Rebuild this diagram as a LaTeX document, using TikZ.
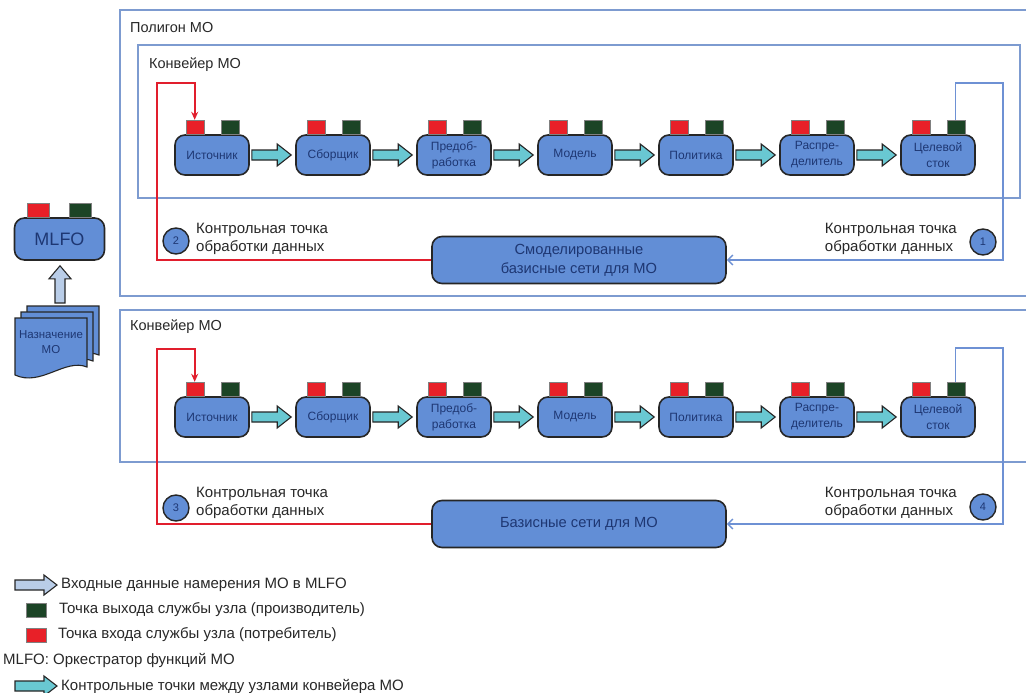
\documentclass[tikz,border=0pt]{standalone}
\usepackage{fontspec}
\setmainfont{Liberation Sans}
\usetikzlibrary{calc,arrows.meta}
\definecolor{nodefill}{RGB}{98,142,214}
\definecolor{nodetext}{RGB}{30,55,115}
\definecolor{portred}{RGB}{232,32,40}
\definecolor{portgreen}{RGB}{28,68,38}
\definecolor{cyanarr}{RGB}{105,200,210}
\definecolor{frameblue}{RGB}{125,155,208}
\definecolor{lineblue}{RGB}{110,145,212}
\definecolor{linered}{RGB}{225,30,45}
\definecolor{inarrow}{RGB}{185,205,232}
\definecolor{txtgray}{RGB}{40,40,40}
\newcommand{\blockarr}[2]{%
  \draw[cyanarrow] ($(#1.east)+(2,-5)$) -- ($(#2.west)+(-18,-5)$) -- ($(#2.west)+(-18,-11)$) -- ($(#2.west)+(-4,0)$) -- ($(#2.west)+(-18,11)$) -- ($(#2.west)+(-18,5)$) -- ($(#1.east)+(2,5)$) -- cycle;}
\newcommand{\docsheet}[2]{%
  \filldraw[docsheetstyle] (#1,#2) -- ++(72,0) -- ++(0,49) .. controls +(-22,-9) and +(26,12) .. ++(-72,8) -- cycle;}
\begin{document}
\begin{tikzpicture}[x=1pt,y=-1pt,
  proc/.style={draw=black!85, line width=1.6pt, fill=nodefill, rounded corners=10pt,
    minimum width=74pt, minimum height=40pt, inner sep=1pt,
    font=\fontsize{12}{16}\selectfont, text=nodetext, align=center},
  rport/.style={draw=black!50, line width=0.4pt, fill=portred, minimum width=18pt, minimum height=14pt, inner sep=0pt},
  gport/.style={draw=black!50, line width=0.4pt, fill=portgreen, minimum width=18pt, minimum height=14pt, inner sep=0pt},
  cyanarrow/.style={draw=black!85, line width=1.1pt, fill=cyanarr, line join=miter},
  inarr/.style={draw=black!85, line width=1.1pt, fill=inarrow, line join=miter},
  frame/.style={draw=frameblue, line width=1.2pt},
  lbl/.style={font=\fontsize{14.5}{18}\selectfont, text=txtgray, inner sep=0pt},
  cptext/.style={font=\fontsize{15}{18}\selectfont, text=txtgray, inner sep=0pt, align=left},
  cp/.style={circle, draw=black!85, line width=1.4pt, fill=nodefill, minimum size=26pt, inner sep=0pt,
    font=\fontsize{11}{13}\selectfont, text=nodetext},
  bigbox/.style={draw=black!85, line width=1.6pt, fill=nodefill, rounded corners=10pt,
    minimum width=294pt, minimum height=47pt, inner sep=1pt,
    font=\fontsize{14.7}{19}\selectfont, text=nodetext, align=center},
  redline/.style={draw=linered, line width=1.6pt, -{Stealth[length=8pt,width=7pt]}},
  blueline/.style={draw=lineblue, line width=1.4pt, -{Straight Barb[length=5pt,width=10pt]}},
  docsheetstyle/.style={draw=black!85, line width=1.1pt, fill=nodefill},
  legtext/.style={font=\fontsize{15}{18}\selectfont, text=txtgray, inner sep=0pt, anchor=west}
]
\useasboundingbox (0,0) rectangle (1026,693);
\fill[white] (0,0) rectangle (1026,693);

% frames
\draw[frame] (1026,10) -- (120,10) -- (120,296) -- (1026,296);
\draw[frame] (138,45) rectangle (1020,198);
\draw[frame] (1026,310) -- (120,310) -- (120,462) -- (1026,462);
\node[lbl, anchor=west] (tpoly) at (130,28) {Полигон МО};
\node[lbl, anchor=west] (tconv1) at (149,65) {Конвейер МО};
\node[lbl, anchor=west] (tconv2) at (130,327) {Конвейер МО};

% pipelines
\foreach \r/\yy in {a/155,b/417}{
  \foreach \txt [count=\k] in {Источник, Сборщик, {Предоб-\\работка}, Модель, Политика, {Распре-\\делитель}, {Целевой\\сток}}{
    \node[proc] (\r\k) at ({212+121*(\k-1)},\yy) {\txt};
    \node[rport, anchor=south] (\r\k r) at ($(\r\k.north west)+(20.5,0)$) {};
    \node[gport, anchor=south] (\r\k g) at ($(\r\k.north west)+(55.5,0)$) {};
  }
  \foreach \k [count=\n from 2] in {1,...,6}{
    \blockarr{\r\k}{\r\n}
  }
}

% base network boxes
\node[bigbox] (sim) at (579,260) {Смоделированные\\базисные сети для МО};
\node[bigbox] (base) at (579,524) {Базисные сети для МО};

% control-point connectors
\coordinate (ra) at (157,83);
\coordinate (ba) at (1003,83);
\coordinate (rb) at (157,349);
\coordinate (bb) at (1003,348);
\draw[redline] (sim.west) -| (ra) -| (a1r.north);
\draw[blueline] (a7g.north) |- (ba) |- (sim.east);
\draw[redline] (base.west) -| (rb) -| (b1r.north);
\draw[blueline] (b7g.north) |- (bb) |- (base.east);

% control points
\node[cp] (c1) at (983,242) {1};
\node[cp] (c2) at (176,241) {2};
\node[cp] (c3) at (176,508) {3};
\node[cp] (c4) at (983,507) {4};
\node[cptext, anchor=east] (t1) at (957,239) {Контрольная точка\\обработки данных};
\node[cptext, anchor=west] (t2) at (196,239) {Контрольная точка\\обработки данных};
\node[cptext, anchor=west] (t3) at (196,503) {Контрольная точка\\обработки данных};
\node[cptext, anchor=east] (t4) at (957,503) {Контрольная точка\\обработки данных};

% MLFO
\node[proc, minimum width=90pt, minimum height=42pt, font=\fontsize{18}{20}\selectfont] (mlfo) at (59.5,239) {MLFO};
\node[rport, minimum width=22pt, anchor=south] (mlfor) at ($(mlfo.north west)+(24,0)$) {};
\node[gport, minimum width=22pt, anchor=south] (mlfog) at ($(mlfo.north west)+(66,0)$) {};

% intent document stack
\docsheet{27}{306}
\docsheet{21}{312}
\docsheet{15}{318}
\node[font=\fontsize{11.5}{15}\selectfont, text=nodetext, align=center, inner sep=0pt] (doc) at (51,342) {Назначение\\МО};
\coordinate (docTop) at (60,303);
\coordinate (tipT) at ($(mlfo.south)+(0.5,5)$);
\draw[inarr] ($(docTop)+(-5,0)$) -- ($(tipT)+(-5,13)$) -- ($(tipT)+(-11,13)$) -- (tipT) -- ($(tipT)+(11,13)$) -- ($(tipT)+(5,13)$) -- ($(docTop)+(5,0)$) -- cycle;

% legend
\draw[inarr] (15,580) -- (44,580) -- (44,575) -- (57,585) -- (44,595) -- (44,590) -- (15,590) -- cycle;
\node[legtext] (l1) at (61,585) {Входные данные намерения МО в MLFO};
\node[gport, minimum width=20pt] (lg) at (36,610) {};
\node[legtext] (l2) at (59,610) {Точка выхода службы узла (производитель)};
\node[rport, minimum width=20pt] (lr) at (36,635) {};
\node[legtext] (l3) at (58,635) {Точка входа службы узла (потребитель)};
\node[legtext] (l4) at (3,660) {MLFO: Оркестратор функций МО};
\draw[cyanarrow] (15,681) -- (44,681) -- (44,676) -- (57,686) -- (44,696) -- (44,691) -- (15,691) -- cycle;
\node[legtext] (l5) at (61,686) {Контрольные точки между узлами конвейера МО};
\end{tikzpicture}
\end{document}
